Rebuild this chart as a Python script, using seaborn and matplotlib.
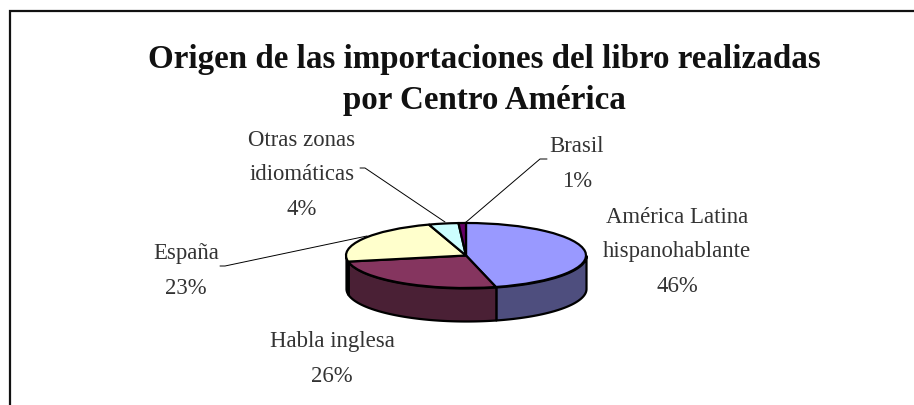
import numpy as np
import matplotlib
matplotlib.use("Agg")
import matplotlib.pyplot as plt
import seaborn as sns

sns.set_style("white")
plt.rcParams['font.family'] = ['Liberation Serif', 'DejaVu Serif']

# chart values
categories = ['América Latina\nhispanohablante', 'Habla inglesa', 'España',
              'Otras zonas\nidiomáticas', 'Brasil']
shares = [46, 26, 23, 4, 1]
top_colors = ['#9999FF', '#85355F', '#FFFFCC', '#CCFFFF', '#660066']
side_colors = ['#4E4E7E', '#4A2035', '#4A2035', '#667F7F', '#330033']
title = 'Origen de las importaciones del libro realizadas\npor Centro América'

W, H = 914, 406
fig = plt.figure(figsize=(W / 100, H / 100), dpi=100, facecolor='white')

# overlay in pixel coordinates for frame, texts and leader lines
page = fig.add_axes([0, 0, 1, 1], zorder=3)
page.set_xlim(0, W)
page.set_ylim(H, 0)
page.axis('off')
page.patch.set_alpha(0)

# pie axes: the squashed aspect gives the tilted look
cx, cy, rx, ry, depth = 466, 256.5, 120, 32.5, 33
margin = 1.05
d = depth / ry
left = cx - rx * margin
top = cy - ry * margin
width = 2 * rx * margin
height = ry * (2 * margin + d)
ax = fig.add_axes([left / W, 1 - (top + height) / H, width / W, height / H], zorder=2)

wedges, _ = ax.pie(shares, colors=sns.color_palette(top_colors), startangle=90, counterclock=False,
                   radius=1, wedgeprops=dict(edgecolor='black', linewidth=1.6, zorder=3))
ax.set_aspect('auto')
ax.set_xlim(-margin, margin)
ax.set_ylim(-margin - d, margin)
ax.axis('off')

# side wall, only the front half of the rim is visible
for w, col in zip(wedges, side_colors):
    a0, a1 = w.theta1 % 360, w.theta2 % 360
    if a1 <= a0:
        a1 += 360
    lo, hi = max(a0, 180), min(a1, 360)
    if hi <= lo:
        continue
    t = np.radians(np.linspace(lo, hi, 80))
    x = np.cos(t)
    y = np.sin(t)
    ax.fill_between(x, y - d, y, facecolor=col, edgecolor='black', linewidth=1.6, zorder=1)

# frame, open on the right and at the bottom like the original crop
page.plot([9.5, 9.5, W], [H, 11.5, 11.5], color='#111111', lw=1.6, solid_joinstyle='miter')

page.text(484, 80, title, ha='center', va='center', fontsize=23.8, fontweight='bold',
          color='#111111', linespacing=1.4)

label_pos = [(677, 252), (332, 359), (186, 271), (302, 175), (577, 164)]
for cat, val, (lx, ly) in zip(categories, shares, label_pos):
    page.text(lx, ly, f'{cat}\n{val}%', ha='center', va='center', fontsize=16.4,
              color='#333333', linespacing=1.84)

# leader lines
page.plot([360, 365, 445], [169, 169, 223], color='black', lw=0.7)
page.plot([547, 540, 465], [160, 160, 224], color='black', lw=0.7)
page.plot([220, 225, 367], [267, 267, 237], color='black', lw=0.7)

fig.savefig('out.png', dpi=100)
